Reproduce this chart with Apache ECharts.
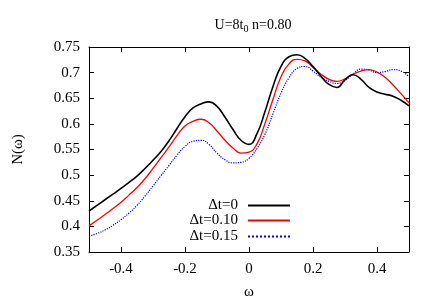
<!DOCTYPE html>
<html>
<head>
<meta charset="utf-8">
<script src="https://cdn.jsdelivr.net/npm/echarts@6/dist/echarts.min.js"></script>
<style>html,body{margin:0;padding:0;background:#fff}#c{width:436px;height:305px}</style>
</head>
<body>
<div id="c"></div>
<script>
var seriesNames = ['Δt=0', 'Δt=0.10', 'Δt=0.15'];
var xTicks = [-0.4, -0.2, 0, 0.2, 0.4];
var yTicks = [0.35, 0.4, 0.45, 0.5, 0.55, 0.6, 0.65, 0.7, 0.75];

var omega = [-0.5,-0.475,-0.45,-0.425,-0.4,-0.375,-0.35,-0.325,-0.3,-0.275,-0.25,-0.225,-0.2,-0.175,-0.15,-0.125,-0.1,-0.075,-0.05,-0.025,0,
             0.025,0.05,0.075,0.1,0.125,0.15,0.175,0.2,0.225,0.25,0.275,0.3,0.325,0.35,0.375,0.4,0.425,0.45,0.475,0.5];
var dt0   = [0.430,0.441,0.452,0.463,0.474,0.486,0.498,0.513,0.529,0.546,0.567,0.591,0.614,0.631,0.639,0.643,0.634,0.613,0.589,0.568,0.560,
             0.581,0.624,0.673,0.712,0.731,0.735,0.728,0.712,0.693,0.677,0.671,0.686,0.696,0.687,0.671,0.662,0.658,0.654,0.646,0.635];
var dt010 = [0.401,0.412,0.423,0.435,0.447,0.461,0.476,0.493,0.513,0.534,0.555,0.577,0.596,0.605,0.609,0.602,0.586,0.568,0.553,0.543,0.545,
             0.561,0.601,0.648,0.692,0.717,0.726,0.723,0.710,0.697,0.687,0.683,0.688,0.697,0.703,0.706,0.701,0.691,0.676,0.659,0.641];
var dt015 = [0.381,0.386,0.393,0.402,0.413,0.426,0.441,0.459,0.479,0.499,0.519,0.539,0.556,0.566,0.568,0.560,0.543,0.530,0.524,0.525,0.533,
             0.552,0.580,0.620,0.660,0.690,0.708,0.712,0.703,0.691,0.683,0.679,0.685,0.697,0.707,0.705,0.700,0.702,0.706,0.703,0.692];

function pairs(ys) { return omega.map(function (x, i) { return [x, ys[i]]; }); }

var FONT = '"Liberation Serif", "DejaVu Serif", serif';
var chart = echarts.init(document.getElementById('c'), null, {renderer: 'canvas'});

function tickAxisX(pos, showLabel) {
  return {
    type: 'value', position: pos, min: -0.5, max: 0.5,
    axisLine: {show: true, onZero: false, lineStyle: {color: '#000', width: 1}},
    axisTick: {show: true, inside: true, length: 5, customValues: xTicks, lineStyle: {color: '#000'}},
    axisLabel: {show: showLabel, customValues: xTicks, margin: 10, color: '#000', fontFamily: FONT, fontSize: 15,
      formatter: function (v) { return String(Math.round(v * 10) / 10); }},
    splitLine: {show: false},
    name: showLabel ? 'ω' : '', nameLocation: 'middle', nameGap: 33,
    nameTextStyle: {color: '#000', fontFamily: FONT, fontSize: 15}
  };
}
function tickAxisY(pos, showLabel) {
  return {
    type: 'value', position: pos, min: 0.35, max: 0.75, interval: 0.05,
    axisLine: {show: true, onZero: false, lineStyle: {color: '#000', width: 1}},
    axisTick: {show: true, inside: true, length: 5, lineStyle: {color: '#000'}},
    axisLabel: {show: showLabel, margin: 9, color: '#000', fontFamily: FONT, fontSize: 15,
      formatter: function (v) { return String(Math.round(v * 100) / 100); }},
    splitLine: {show: false},
    name: showLabel ? 'N(ω)' : '', nameLocation: 'middle', nameGap: 63, nameRotate: 90,
    nameTextStyle: {color: '#000', fontFamily: FONT, fontSize: 15}
  };
}

var colors = ['#000000', '#ff0000', '#0000ff'];
var widths = [1.6, 1.3, 1.2];
var types = ['solid', 'solid', 'dotted'];
var datas = [dt0, dt010, dt015];
var legendTops = [198, 213, 229];

var series = [], legends = [];
for (var i = 0; i < 3; i++) {
  series.push({
    name: seriesNames[i], type: 'line', data: pairs(datas[i]), smooth: 0.5, symbol: 'none',
    xAxisIndex: 0, yAxisIndex: 0,
    lineStyle: {color: colors[i], width: widths[i], type: types[i]},
    itemStyle: {color: colors[i]}, z: 10 - i
  });
  legends.push({
    data: [seriesNames[i]], right: 145, top: legendTops[i], align: 'right',
    itemWidth: 42, itemHeight: 14, padding: 0, selectedMode: false,
    itemStyle: {opacity: 0},
    textStyle: {color: '#000', fontFamily: FONT, fontSize: 15, padding: [0, 5, 0, 0]}
  });
}

chart.setOption({
  animation: false,
  backgroundColor: '#fff',
  title: {
    text: 'U=8t{s|0} n=0.80', left: 248, top: 11, textAlign: 'center',
    textStyle: {color: '#000', fontFamily: FONT, fontSize: 14, fontWeight: 'normal',
      rich: {s: {fontSize: 10, verticalAlign: 'bottom', padding: [8, 0, 0, 0], fontFamily: FONT, color: '#000'}}}
  },
  grid: {left: 89, right: 27, top: 47, bottom: 48, containLabel: false},
  legend: legends,
  xAxis: [tickAxisX('bottom', true), tickAxisX('top', false)],
  yAxis: [tickAxisY('left', true), tickAxisY('right', false)],
  series: series
});
</script>
</body>
</html>
